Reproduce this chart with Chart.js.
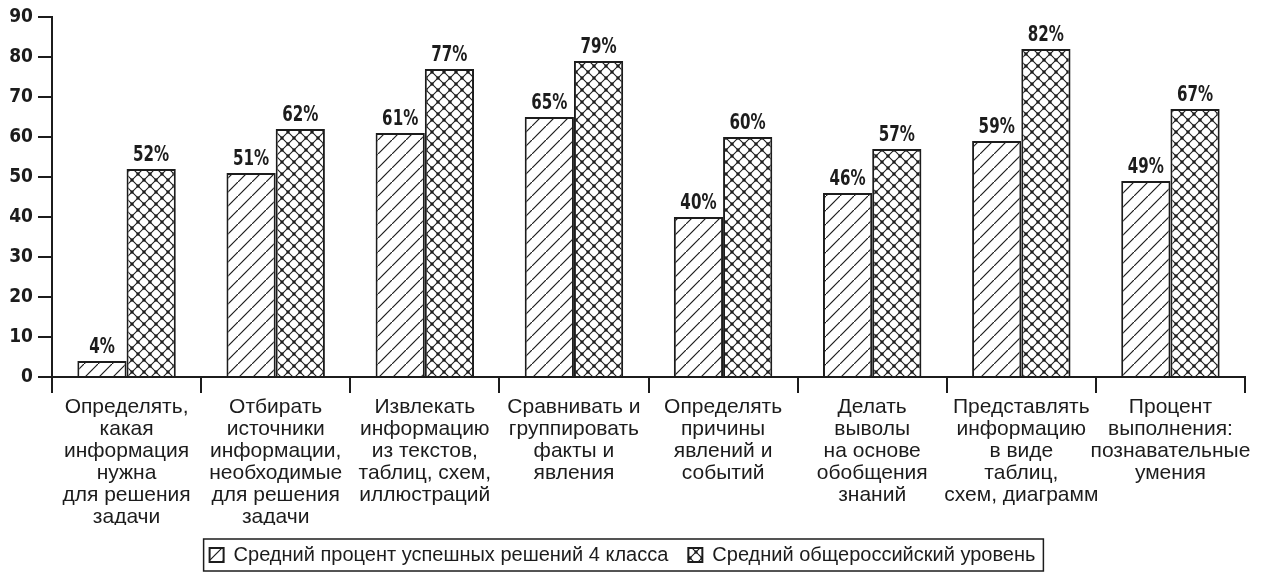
<!DOCTYPE html>
<html>
<head>
<meta charset="utf-8">
<script src="https://cdn.jsdelivr.net/npm/chart.js@4/dist/chart.umd.min.js"></script>
<style>
  body { margin: 0; background: #fff; }
  #wrap { width: 1266px; height: 583px; position: relative; }
</style>
</head>
<body>
<div id="wrap"><canvas id="myChart"></canvas></div>
<script>
// категории (подписи по оси X)
var kategorii = [
    ["Определять,", "какая", "информация", "нужна", "для решения", "задачи"],
    ["Отбирать", "источники", "информации,", "необходимые", "для решения", "задачи"],
    ["Извлекать", "информацию", "из текстов,", "таблиц, схем,", "иллюстраций"],
    ["Сравнивать и", "группировать", "факты и", "явления"],
    ["Определять", "причины", "явлений и", "событий"],
    ["Делать", "выволы", "на основе", "обобщения", "знаний"],
    ["Представлять", "информацию", "в виде", "таблиц,", "схем, диаграмм"],
    ["Процент", "выполнения:", "познавательные", "умения"]
];
var klass4 = [4, 51, 61, 65, 40, 46, 59, 49];
var rossiya = [52, 62, 77, 79, 60, 57, 82, 67];
var nazvaniya = ["Средний процент успешных решений 4 класса", "Средний общероссийский уровень"];
var yTicks = [0, 10, 20, 30, 40, 50, 60, 70, 80, 90];

var INK = '#1c1c1c';
var NARROW = "'Liberation Sans Narrow', 'DejaVu Sans Condensed', sans-serif";
var REG = "'Liberation Sans', Arial, sans-serif";

// штриховка ////
function makeHatch() {
    var c = document.createElement('canvas');
    c.width = 14; c.height = 14;
    var g = c.getContext('2d');
    g.fillStyle = '#fff';
    g.fillRect(0, 0, 14, 14);
    g.strokeStyle = INK;
    g.lineWidth = 1.2;
    g.beginPath();
    g.moveTo(-2, 16); g.lineTo(16, -2);
    g.stroke();
    return g.createPattern(c, 'repeat');
}

// сетка с точками
function makeCross() {
    var c = document.createElement('canvas');
    c.width = 12; c.height = 12;
    var g = c.getContext('2d');
    g.fillStyle = '#fff';
    g.fillRect(0, 0, 12, 12);
    g.strokeStyle = INK;
    g.lineWidth = 1.1;
    g.beginPath();
    g.moveTo(0, 0); g.lineTo(12, 12);
    g.moveTo(12, 0); g.lineTo(0, 12);
    g.stroke();
    g.fillStyle = INK;
    [[6, 6], [0, 0], [12, 0], [0, 12], [12, 12]].forEach(function (p) {
        g.beginPath();
        g.arc(p[0], p[1], 1.7, 0, Math.PI * 2);
        g.fill();
    });
    return g.createPattern(c, 'repeat');
}

// подписи над столбцами (узкий жирный шрифт)
var podpisi = {
    id: 'podpisi',
    afterDatasetsDraw: function (chart) {
        var ctx = chart.ctx;
        chart.data.datasets.forEach(function (ds, i) {
            chart.getDatasetMeta(i).data.forEach(function (bar, j) {
                ctx.save();
                ctx.translate(bar.x, bar.y - 13);
                ctx.scale(0.8, 1);
                ctx.font = 'bold 21px ' + NARROW;
                ctx.fillStyle = INK;
                ctx.textAlign = 'center';
                ctx.textBaseline = 'middle';
                ctx.fillText(ds.data[j] + '%', 0, 0);
                ctx.restore();
            });
        });
    }
};

// рамка вокруг легенды
var ramka = {
    id: 'ramka',
    afterDraw: function (chart) {
        var hb = chart.legend.legendHitBoxes;
        if (!hb || !hb.length) return;
        var l = hb[0].left, r = 0, t = hb[0].top, b = 0;
        hb.forEach(function (h) {
            l = Math.min(l, h.left);
            r = Math.max(r, h.left + h.width);
            t = Math.min(t, h.top);
            b = Math.max(b, h.top + h.height);
        });
        var ctx = chart.ctx;
        ctx.save();
        ctx.strokeStyle = INK;
        ctx.lineWidth = 1.5;
        ctx.strokeRect(l - 6, t - 6, r - l + 14, b - t + 12);
        ctx.restore();
    }
};

var ctx = document.getElementById('myChart').getContext('2d');
var chart = new Chart(ctx, {
    type: 'bar',
    data: {
        labels: kategorii,
        datasets: [{
            label: nazvaniya[0],
            data: klass4,
            backgroundColor: makeHatch(),
            borderColor: INK,
            borderWidth: 2
        },
        {
            label: nazvaniya[1],
            data: rossiya,
            backgroundColor: makeCross(),
            borderColor: INK,
            borderWidth: 2
        }]
    },
    options: {
        responsive: true,
        maintainAspectRatio: false,
        animation: false,
        datasets: {
            bar: { barPercentage: 1, categoryPercentage: 0.66 }
        },
        layout: { padding: { top: 17, right: 21, left: 0, bottom: 8 } },
        scales: {
            x: {
                offset: true,
                border: { color: INK, width: 2 },
                grid: { offset: true, drawOnChartArea: false, color: INK, lineWidth: 2, tickLength: 16 },
                ticks: {
                    color: INK,
                    font: { family: REG, size: 21, lineHeight: 1.05 },
                    padding: 3,
                    maxRotation: 0,
                    autoSkip: false
                },
                afterFit: function (s) {
                    var lh = s.chart.legend ? s.chart.legend.height : 0;
                    s.height = 583 - 8 - lh - 377;
                }
            },
            y: {
                min: 0,
                max: 90,
                border: { color: INK, width: 2 },
                grid: { drawOnChartArea: false, color: INK, lineWidth: 2, tickLength: 14 },
                afterBuildTicks: function (s) {
                    s.ticks = yTicks.map(function (v) { return { value: v }; });
                },
                ticks: {
                    color: INK,
                    font: { family: NARROW, size: 19, weight: 'bold' },
                    padding: 5
                },
                afterFit: function (s) { s.width = 52; }
            }
        },
        plugins: {
            legend: {
                position: 'bottom',
                labels: {
                    color: INK,
                    font: { family: REG, size: 20 },
                    boxWidth: 14,
                    boxHeight: 14,
                    padding: 20
                }
            },
            tooltip: { enabled: false }
        }
    },
    plugins: [podpisi, ramka]
});
</script>
</body>
</html>
